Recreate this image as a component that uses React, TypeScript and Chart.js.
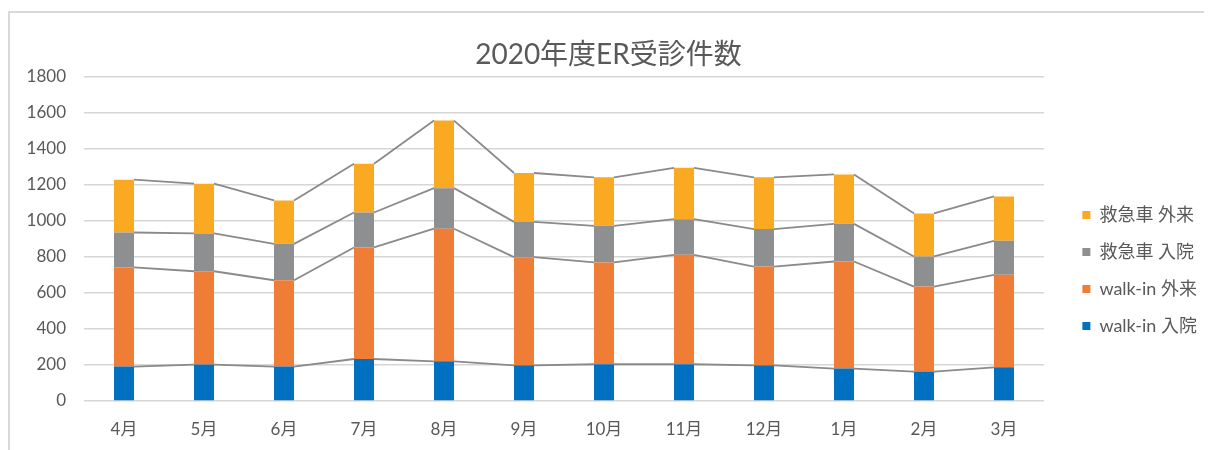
import React, { useEffect, useRef } from "react";
import { Chart, registerables } from "chart.js";

Chart.register(...registerables);

const months = ["4月", "5月", "6月", "7月", "8月", "9月", "10月", "11月", "12月", "1月", "2月", "3月"];
const walkInAdmit = [191, 202, 191, 233, 220, 198, 204, 204, 198, 180, 163, 187];
const walkInOutpatient = [550, 518, 479, 619, 736, 600, 565, 607, 548, 594, 472, 513];
const ambulanceAdmit = [194, 210, 202, 194, 225, 196, 203, 198, 208, 209, 167, 189];
const ambulanceOutpatient = [293, 276, 241, 271, 375, 271, 269, 285, 287, 274, 239, 246];
const seriesNames = ["walk-in 入院", "walk-in 外来", "救急車 入院", "救急車 外来"];
const seriesColors = ["#0070C0", "#F07D35", "#8E8F91", "#F9AA22"];
const yTicks = [0, 200, 400, 600, 800, 1000, 1200, 1400, 1600, 1800];
const titleText = "2020年度ER受診件数";

const FONT = "Lato, 'Noto Sans CJK JP', sans-serif";
const TEXT_COLOR = "#595959";
const CANVAS_W = 1202;
const CANVAS_H = 437;

const seriesLinesPlugin = {
  id: "seriesLines",
  afterDatasetsDraw(chart: any) {
    const ctx = chart.ctx;
    ctx.save();
    ctx.strokeStyle = "#8a8a8a";
    ctx.lineWidth = 1.8;
    chart.data.datasets.forEach((_ds: any, di: number) => {
      const els = chart.getDatasetMeta(di).data;
      ctx.beginPath();
      for (let i = 0; i < els.length - 1; i++) {
        const a = els[i];
        const b = els[i + 1];
        ctx.moveTo(a.x + a.width / 2, a.y);
        ctx.lineTo(b.x - b.width / 2, b.y);
      }
      ctx.stroke();
    });
    ctx.restore();
  },
};

export default function App() {
  const ref = useRef<HTMLCanvasElement | null>(null);

  useEffect(() => {
    if (!ref.current) return;
    const seriesData = [walkInAdmit, walkInOutpatient, ambulanceAdmit, ambulanceOutpatient];
    const chart = new Chart(ref.current, {
      type: "bar",
      data: {
        labels: months,
        datasets: seriesData.map((d, i) => ({
          label: seriesNames[i],
          data: d,
          backgroundColor: seriesColors[i],
          borderWidth: 0,
          barPercentage: 0.25,
          categoryPercentage: 1,
        })),
      },
      options: {
        responsive: false,
        animation: false,
        layout: { padding: { left: 0, right: 5, top: 0, bottom: 0 } },
        plugins: {
          tooltip: { enabled: false },
          title: {
            display: true,
            text: titleText,
            color: TEXT_COLOR,
            font: { family: FONT, size: 28, weight: "normal" },
            padding: { top: 25, bottom: 5 },
          },
          legend: {
            position: "right",
            reverse: true,
            title: {
              display: true,
              text: "",
              font: { size: 10 },
              padding: { top: 66, bottom: 0 },
            },
            labels: {
              boxWidth: 8,
              boxHeight: 8,
              padding: 19,
              color: TEXT_COLOR,
              font: { family: FONT, size: 18 },
            },
          },
        },
        scales: {
          x: {
            stacked: true,
            grid: { display: false, drawTicks: false },
            border: { display: false },
            ticks: { color: TEXT_COLOR, font: { family: FONT, size: 17 }, padding: 18 },
            afterFit: (s: any) => {
              s.height = 49;
            },
          },
          y: {
            stacked: true,
            min: 0,
            max: 1800,
            afterBuildTicks: (s: any) => {
              s.ticks = yTicks.map((v) => ({ value: v }));
            },
            grid: { color: "#d6d6d6", lineWidth: 1.5, drawTicks: false },
            border: { display: false },
            ticks: {
              color: TEXT_COLOR,
              font: { family: FONT, size: 17 },
              padding: 18,
              callback: (v: any) => String(v),
            },
            afterFit: (s: any) => {
              s.width = 74;
            },
          },
          gap: {
            type: "linear",
            position: "right",
            display: true,
            grid: { display: false, drawTicks: false },
            border: { display: false },
            ticks: { display: false },
            afterFit: (s: any) => {
              const lw = s.chart.legend ? s.chart.legend.width : 143;
              s.width = Math.max(0, CANVAS_W - 5 - lw - 1034);
            },
          },
        },
      },
      plugins: [seriesLinesPlugin],
    } as any);
    return () => chart.destroy();
  }, []);

  return (
    <div style={{ position: "relative", width: 1204, height: 442, overflow: "hidden" }}>
      <div
        style={{
          position: "absolute",
          left: 0,
          top: 3,
          width: 1300,
          height: 600,
          borderTop: "2px solid #d9d9d9",
          borderLeft: "2px solid #d9d9d9",
        }}
      />
      <div style={{ position: "absolute", left: 2, top: 5, width: CANVAS_W, height: CANVAS_H }}>
        <canvas ref={ref} width={CANVAS_W} height={CANVAS_H} style={{ display: "block" }} />
      </div>
    </div>
  );
}
